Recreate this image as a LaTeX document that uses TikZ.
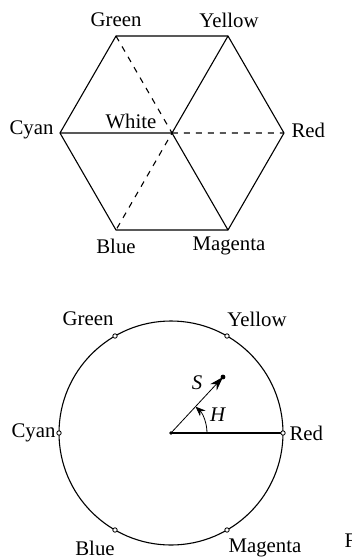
\documentclass[tikz,border=0pt]{standalone}
\usepackage{fontspec}
\setmainfont{Liberation Serif}
\usetikzlibrary{arrows.meta}

\begin{document}
\begin{tikzpicture}[x=0.5pt,y=-0.5pt,line width=0.55pt,every node/.style={font=\fontsize{10.4}{12}\selectfont,inner sep=0pt}]
\useasboundingbox (0,0) rectangle (352,559);
% hexagon
\coordinate (W) at (172,133);
\coordinate (R) at (284,133);
\coordinate (Y) at (228,36);
\coordinate (G) at (116,36);
\coordinate (C) at (60,133);
\coordinate (B) at (116,230);
\coordinate (M) at (228,230);
\draw (R) -- (Y) -- (G) -- (C) -- (B) -- (M) -- cycle;
\draw (C) -- (W) (Y) -- (W) -- (M);
\draw[dashed] (G) -- (W) -- (B) (W) -- (R);
\node (tGreen) at (116,20) {Green};
\node (tYellow) at (229,20) {Yellow};
\node[anchor=east] (tCyan) at (54,130) {Cyan};
\node[anchor=west] (tRed) at (291,130) {Red};
\node (tWhite) at (131,121) {White};
\node (tBlue) at (116,246) {Blue};
\node (tMagenta) at (229,246) {Magenta};
% circle
\coordinate (O) at (171,433);
\coordinate (S) at (223,377);
\draw (O) circle[radius=112];
\draw[line width=0.7pt] (O) -- (283,433);
\foreach \p in {(283,433),(227,336),(115,336),(59,433),(115,530),(227,530)}
  \draw[fill=white,line width=0.4pt] \p circle[radius=2.2];
\fill (O) circle[radius=1.8];
\draw[line width=0.4pt,-{Stealth[length=7pt,width=4.5pt]}] (O) -- (S);
\fill (S) circle[radius=2.4];
\draw[line width=0.4pt,-{Stealth[length=5pt,width=4pt]}] (207,433) arc[start angle=0,end angle=-47,radius=36];
\node (bGreen) at (88,319) {Green};
\node (bYellow) at (257,319) {Yellow};
\node[anchor=east] (bCyan) at (56,433) {Cyan};
\node[anchor=west] (bRed) at (289,433) {Red};
\node (bBlue) at (95,548) {Blue};
\node (bMagenta) at (265,548) {Magenta};
\node (lS) at (197,383) {\textit{S}};
\node (lH) at (218,415) {\textit{H}};
\node[anchor=west] (lFig) at (344,541) {F};
\end{tikzpicture}
\end{document}
